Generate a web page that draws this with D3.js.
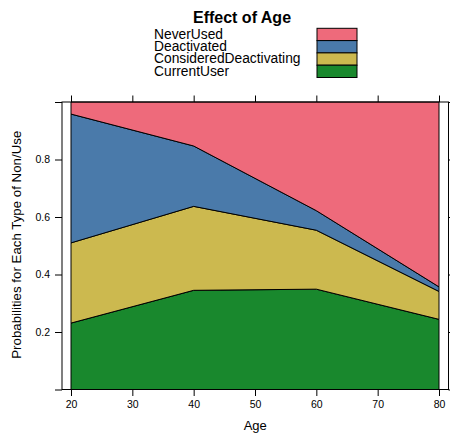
<html>
<head>
<script src="https://cdn.jsdelivr.net/npm/d3@7/dist/d3.min.js" charset="utf-8"></script>
<style>
  body { margin: 0; background: #fff; }
  text { font-family: "Liberation Sans", Arial, Helvetica, sans-serif; fill: #000; }
</style>
</head>
<body>
<svg></svg>
<script>
// probabilities per age group
var ages = [20, 40, 60, 80];
var categories = ["NeverUsed", "Deactivated", "ConsideredDeactivating", "CurrentUser"];
var colours = ["#ee6a7b", "#4a7aaa", "#ccb94f", "#19882d"];
var neverUsed = [0.042, 0.153, 0.378, 0.643];
var deactivated = [0.448, 0.210, 0.068, 0.016];
var considered = [0.279, 0.292, 0.205, 0.097];
var currentUser = [0.231, 0.345, 0.349, 0.244];
var xTicks = [20, 30, 40, 50, 60, 70, 80];
var yTicks = [0, 0.2, 0.4, 0.6, 0.8, 1];
var yTickLabels = ["", "0.2", "0.4", "0.6", "0.8", ""];

var W = 450, H = 435;
var svg = d3.select("svg").attr("width", W).attr("height", H);

// panel box
var box = {left: 62, right: 448.5, top: 102, bottom: 389.5};

var x = d3.scaleLinear().domain([20, 80]).range([71, 439]);
var y = d3.scaleLinear().domain([0, 1]).range([box.bottom, box.top]);

// table for stacking, bottom layer first
var series = {NeverUsed: neverUsed, Deactivated: deactivated,
              ConsideredDeactivating: considered, CurrentUser: currentUser};
var rows = ages.map(function(a, i) {
  var r = {age: a};
  categories.forEach(function(c) { r[c] = series[c][i]; });
  return r;
});
var stackKeys = categories.slice().reverse();
var stacked = d3.stack().keys(stackKeys)(rows);

var area = d3.area()
  .x(function(d) { return x(d.data.age); })
  .y0(function(d) { return y(d[0]); })
  .y1(function(d) { return y(d[1]); });

svg.append("g").selectAll("path")
  .data(stacked).enter()
  .append("path")
  .attr("d", area)
  .attr("fill", function(d) { return colours[categories.indexOf(d.key)]; })
  .attr("stroke", "#000")
  .attr("stroke-width", 1)
  .attr("stroke-linejoin", "miter");

// box
svg.append("rect")
  .attr("x", box.left).attr("y", box.top)
  .attr("width", box.right - box.left).attr("height", box.bottom - box.top)
  .attr("fill", "none").attr("stroke", "#000").attr("stroke-width", 1);

function styleAxis(g) {
  g.select(".domain").remove();
  g.selectAll("line").attr("stroke", "#000");
  g.selectAll("text").style("font-size", "10.5px")
    .style("font-family", '"Liberation Sans", Arial, sans-serif');
}

svg.append("g").attr("transform", "translate(0," + box.bottom + ")")
  .call(d3.axisBottom(x).tickValues(xTicks).tickSize(6.5).tickPadding(5))
  .call(styleAxis);
svg.append("g").attr("transform", "translate(0," + box.top + ")")
  .call(d3.axisTop(x).tickValues(xTicks).tickSize(6.5).tickFormat(""))
  .call(styleAxis);
svg.append("g").attr("transform", "translate(" + box.left + ",0)")
  .call(d3.axisLeft(y).tickValues(yTicks).tickSize(7).tickPadding(5)
        .tickFormat(function(d, i) { return yTickLabels[i]; }))
  .call(styleAxis);
svg.append("g").attr("transform", "translate(" + box.right + ",0)")
  .call(d3.axisRight(y).tickValues(yTicks).tickSize(7).tickFormat(""))
  .call(styleAxis);

// axis titles
svg.append("text")
  .attr("x", (box.left + box.right) / 2).attr("y", 429.5)
  .attr("text-anchor", "middle").style("font-size", "13px")
  .text("Age");
svg.append("text")
  .attr("transform", "translate(21," + ((box.top + box.bottom) / 2 - 1) + ") rotate(-90)")
  .attr("text-anchor", "middle").style("font-size", "13.3px")
  .text("Probabilities for Each Type of Non/Use");

// title
svg.append("text")
  .attr("x", 242).attr("y", 23)
  .attr("text-anchor", "middle")
  .style("font-size", "16px").style("font-weight", "bold")
  .text("Effect of Age");

// legend
var legRow = 12.3, legTop = 28.3;
var leg = svg.append("g");
leg.selectAll("text")
  .data(categories).enter()
  .append("text")
  .attr("x", 154)
  .attr("y", function(d, i) { return legTop + i * legRow + 10.3; })
  .style("font-size", "13.8px")
  .text(function(d) { return d; });
leg.selectAll("rect")
  .data(categories).enter()
  .append("rect")
  .attr("x", 317)
  .attr("y", function(d, i) { return legTop + i * legRow; })
  .attr("width", 40).attr("height", legRow)
  .attr("fill", function(d, i) { return colours[i]; })
  .attr("stroke", "#000").attr("stroke-width", 1);
</script>
</body>
</html>
